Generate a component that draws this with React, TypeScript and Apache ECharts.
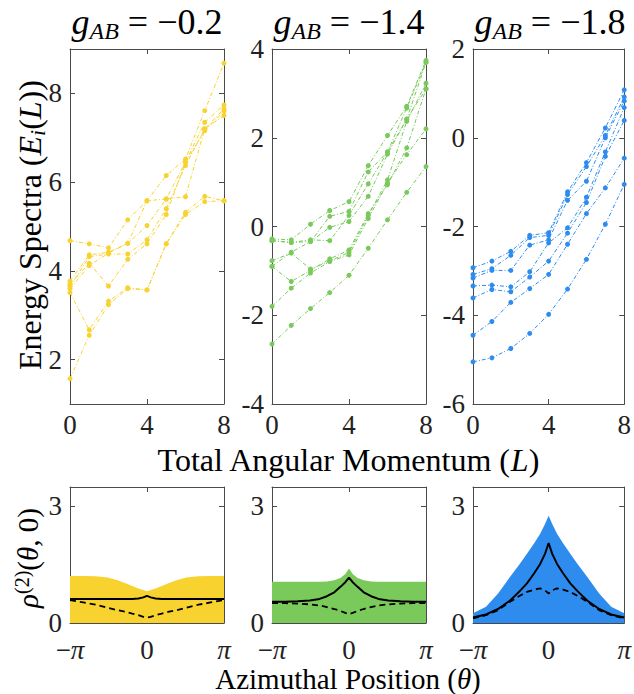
import React, { useEffect, useRef } from "react";
import * as echarts from "echarts";

// ---------- data ----------
const L_VALUES = [0, 1, 2, 3, 4, 5, 6, 7, 8];

const YELLOW_LINES = [
  [4.68, 4.61, 4.52, 5.15, 5.58, 6.15, 6.52, 7.61, 8.68],
  [3.77, 4.36, 4.42, 4.62, 5.58, 5.62, 6.45, 7.35, 7.74],
  [3.65, 4.32, 4.38, 4.38, 4.7, 5.4, 6.37, 7.2, 7.65],
  [3.7, 4.17, 3.66, 4.26, 4.61, 5.27, 6.45, 7.16, 7.6],
  [3.6, 4.12, 4.4, 4.62, 5.02, 5.62, 5.67, 7.2, 7.5],
  [3.51, 2.67, 3.32, 3.62, 3.57, 4.61, 5.32, 5.68, 5.58],
  [1.57, 2.55, 3.24, 3.6, 3.57, 4.61, 5.27, 5.56, 5.58],
];

const GREEN_LINES = [
  [-2.65, -2.23, -1.85, -1.49, -1.1, -0.49, 0.15, 0.77, 1.35],
  [-1.8, -1.39, -1.05, -0.79, -0.64, 0.18, 0.98, 1.62, 2.2],
  [-0.9, -1.24, -0.99, -0.73, -0.53, 0.29, 0.94, 1.77, 3.1],
  [-0.77, -0.6, -0.96, -0.78, -0.58, 0.25, 1.05, 2.37, 3.23],
  [-0.9, -0.58, -0.34, -0.02, 0.11, 0.68, 1.63, 2.42, 3.1],
  [-0.32, -0.36, -0.3, -0.32, 0.25, 0.96, 1.68, 2.67, 3.7],
  [-0.28, -0.3, 0.05, 0.36, 0.56, 1.37, 2.05, 2.71, 3.74],
  [-0.32, -0.36, -0.34, 0.23, 0.34, 1.23, 1.68, 2.42, 3.7],
];

const BLUE_LINES = [
  [-5.05, -4.96, -4.75, -4.41, -3.98, -3.41, -2.74, -1.95, -1.05],
  [-4.45, -4.14, -3.71, -3.4, -3.08, -2.4, -1.71, -1.13, -0.46],
  [-3.61, -3.42, -3.47, -3.14, -2.78, -2.15, -1.46, -0.42, 0.39],
  [-3.34, -3.32, -3.36, -3.02, -2.37, -2.03, -1.34, -0.32, 0.68],
  [-3.16, -2.99, -2.99, -2.42, -2.3, -1.41, -0.98, 0.0, 0.83],
  [-3.08, -2.95, -2.65, -2.25, -2.2, -1.28, -0.65, 0.05, 0.92],
  [-2.93, -2.78, -2.56, -2.2, -2.14, -1.22, -0.56, 0.22, 1.08],
];

const THETA = [
  -3.1416, -2.6, -2.1, -1.6, -1.2, -0.9, -0.6, -0.35, -0.15, 0,
  0.15, 0.35, 0.6, 0.9, 1.2, 1.6, 2.1, 2.6, 3.1416,
];

const YELLOW_BAND = [1.21, 1.21, 1.2, 1.17, 1.1, 1.03, 0.95, 0.89, 0.85, 0.82, 0.85, 0.89, 0.95, 1.03, 1.1, 1.17, 1.2, 1.21, 1.21];
const YELLOW_SOLID = [0.62, 0.62, 0.62, 0.62, 0.62, 0.62, 0.62, 0.63, 0.66, 0.7, 0.66, 0.63, 0.62, 0.62, 0.62, 0.62, 0.62, 0.62, 0.62];
const YELLOW_DASHED = [0.59, 0.53, 0.47, 0.39, 0.33, 0.29, 0.24, 0.2, 0.16, 0.14, 0.16, 0.2, 0.24, 0.29, 0.33, 0.39, 0.47, 0.53, 0.59];

const GREEN_BAND = [1.06, 1.06, 1.06, 1.06, 1.06, 1.07, 1.1, 1.16, 1.26, 1.4, 1.26, 1.16, 1.1, 1.07, 1.06, 1.06, 1.06, 1.06, 1.06];
const GREEN_SOLID = [0.55, 0.55, 0.56, 0.58, 0.62, 0.69, 0.79, 0.93, 1.05, 1.17, 1.05, 0.93, 0.79, 0.69, 0.62, 0.58, 0.56, 0.55, 0.55];
const GREEN_DASHED = [0.51, 0.51, 0.5, 0.48, 0.45, 0.41, 0.36, 0.31, 0.26, 0.23, 0.26, 0.31, 0.36, 0.41, 0.45, 0.48, 0.5, 0.51, 0.51];

const BLUE_BAND = [0.25, 0.42, 0.76, 1.19, 1.52, 1.78, 2.05, 2.3, 2.55, 2.76, 2.55, 2.3, 2.05, 1.78, 1.52, 1.19, 0.76, 0.42, 0.25];
const BLUE_SOLID = [0.14, 0.22, 0.36, 0.58, 0.82, 1.02, 1.28, 1.52, 1.78, 2.06, 1.78, 1.52, 1.28, 1.02, 0.82, 0.58, 0.36, 0.22, 0.14];
const BLUE_DASHED = [0.12, 0.2, 0.33, 0.55, 0.7, 0.8, 0.86, 0.89, 0.84, 0.76, 0.84, 0.89, 0.86, 0.8, 0.7, 0.55, 0.33, 0.2, 0.12];

const TITLES = ["−0.2", "−1.4", "−1.8"];
const TOP_Y_RANGES = [
  [1, 9],
  [-4, 4],
  [-6, 2],
];
const TOP_Y_TICKS = [
  [2, 4, 6, 8],
  [-4, -2, 0, 2, 4],
  [-6, -4, -2, 0, 2],
];
const L_TICKS = [0, 4, 8];
const THETA_TICKS = [-Math.PI, 0, Math.PI];
const RHO_TICKS = [0, 3];

const COLORS = ["#F8D22F", "#79C95B", "#2E8CEF"];

// ---------- layout ----------
const LEFTS = [70, 272, 473];
const PW = 154;
const TOP_T = 49;
const TOP_H = 355;
const BOT_T = 487;
const BOT_H = 136;

const FONT = "'Times New Roman', 'Liberation Serif', Times, serif";
const AXIS_COLOR = "#4a4a4a";
const TEXT_COLOR = "#222";
const TICK_FS = 27;

export default function App() {
  const ref = useRef<HTMLDivElement>(null);

  useEffect(() => {
    if (!ref.current) return;
    const chart = echarts.init(ref.current, null, { renderer: "svg" });

    const grids: any[] = [];
    const xAxes: any[] = [];
    const yAxes: any[] = [];
    const series: any[] = [];

    const labelStyle = {
      fontFamily: FONT,
      fontSize: TICK_FS,
      color: TEXT_COLOR,
    };

    const addAxes = (
      gi: number,
      xmin: number,
      xmax: number,
      xticks: number[],
      ymin: number,
      ymax: number,
      yticks: number[],
      xFormatter: (v: number) => string,
      yFormatter: (v: number) => string,
      xMargin: number
    ) => {
      const common = {
        gridIndex: gi,
        type: "value",
        splitLine: { show: false },
        axisLine: { show: true, onZero: false, lineStyle: { color: AXIS_COLOR, width: 1 } },
      };
      xAxes.push({
        ...common,
        position: "bottom",
        min: xmin,
        max: xmax,
        axisTick: { show: true, inside: true, length: 5, customValues: xticks, lineStyle: { color: AXIS_COLOR } },
        axisLabel: {
          show: true,
          customValues: xticks,
          formatter: xFormatter,
          margin: xMargin,
          ...labelStyle,
          rich: {
            p: { fontFamily: FONT, fontSize: TICK_FS, fontStyle: "italic", color: TEXT_COLOR },
            m: { fontFamily: FONT, fontSize: TICK_FS, color: TEXT_COLOR },
          },
        },
      });
      xAxes.push({
        ...common,
        position: "top",
        min: xmin,
        max: xmax,
        axisTick: { show: true, inside: true, length: 5, customValues: xticks, lineStyle: { color: AXIS_COLOR } },
        axisLabel: { show: false },
      });
      yAxes.push({
        ...common,
        position: "left",
        min: ymin,
        max: ymax,
        axisTick: { show: true, inside: true, length: 5, customValues: yticks, lineStyle: { color: AXIS_COLOR } },
        axisLabel: {
          show: true,
          customValues: yticks,
          formatter: yFormatter,
          margin: 8,
          ...labelStyle,
        },
      });
      yAxes.push({
        ...common,
        position: "right",
        min: ymin,
        max: ymax,
        axisTick: { show: true, inside: true, length: 5, customValues: yticks, lineStyle: { color: AXIS_COLOR } },
        axisLabel: { show: false },
      });
    };

    const topLines = [YELLOW_LINES, GREEN_LINES, BLUE_LINES];
    const bands = [YELLOW_BAND, GREEN_BAND, BLUE_BAND];
    const solids = [YELLOW_SOLID, GREEN_SOLID, BLUE_SOLID];
    const dashes = [YELLOW_DASHED, GREEN_DASHED, BLUE_DASHED];

    for (let p = 0; p < 3; p++) {
      const gi = grids.length;
      grids.push({ left: LEFTS[p], top: TOP_T, width: PW, height: TOP_H, containLabel: false });
      const xi = xAxes.length;
      const yi = yAxes.length;
      addAxes(
        gi,
        0,
        8,
        L_TICKS,
        TOP_Y_RANGES[p][0],
        TOP_Y_RANGES[p][1],
        TOP_Y_TICKS[p],
        (v: number) => String(v),
        (v: number) => (v < 0 ? "-" + Math.abs(v) : String(v)),
        7
      );
      topLines[p].forEach((arr) => {
        series.push({
          type: "line",
          xAxisIndex: xi,
          yAxisIndex: yi,
          data: L_VALUES.map((l, i) => [l, arr[i]]),
          symbol: "circle",
          symbolSize: 5,
          showSymbol: true,
          itemStyle: { color: COLORS[p] },
          lineStyle: { color: COLORS[p], width: 1, type: [4, 2, 1, 2] },
          silent: true,
        });
      });

      const gb = grids.length;
      grids.push({ left: LEFTS[p], top: BOT_T, width: PW, height: BOT_H, containLabel: false });
      const xb = xAxes.length;
      const yb = yAxes.length;
      addAxes(
        gb,
        -Math.PI,
        Math.PI,
        THETA_TICKS,
        0,
        3.5,
        RHO_TICKS,
        (v: number) => (v < -1 ? "{m|−}{p|π}" : v > 1 ? "{p|π}" : "0"),
        (v: number) => String(v),
        13
      );
      series.push({
        type: "line",
        xAxisIndex: xb,
        yAxisIndex: yb,
        data: THETA.map((t, i) => [t, bands[p][i]]),
        symbol: "none",
        lineStyle: { width: 0 },
        areaStyle: { color: COLORS[p], opacity: 1 },
        z: 1,
        silent: true,
      });
      series.push({
        type: "line",
        xAxisIndex: xb,
        yAxisIndex: yb,
        data: THETA.map((t, i) => [t, dashes[p][i]]),
        symbol: "none",
        lineStyle: { color: "#000", width: 1.8, type: [6, 4] },
        z: 3,
        silent: true,
      });
      series.push({
        type: "line",
        xAxisIndex: xb,
        yAxisIndex: yb,
        data: THETA.map((t, i) => [t, solids[p][i]]),
        symbol: "none",
        lineStyle: { color: "#000", width: 2 },
        z: 4,
        silent: true,
      });
    }

    const titleRich = {
      n: { fontFamily: FONT, fontSize: 36, color: TEXT_COLOR },
      i: { fontFamily: FONT, fontSize: 36, fontStyle: "italic", color: TEXT_COLOR },
      s: {
        fontFamily: FONT,
        fontSize: 24,
        fontStyle: "italic",
        color: TEXT_COLOR,
        padding: [17, 0, 0, 0],
        verticalAlign: "top",
      },
    };

    const graphics: any[] = [];
    for (let p = 0; p < 3; p++) {
      graphics.push({
        type: "text",
        x: LEFTS[p] + PW / 2,
        y: 22,
        style: {
          text: "{i|g}{s|AB}{n| = " + TITLES[p] + "}",
          rich: titleRich,
          align: "center",
          verticalAlign: "middle",
        },
      });
    }
    const mkRich = (fs: number) => ({
      n: { fontFamily: FONT, fontSize: fs, color: TEXT_COLOR },
      i: { fontFamily: FONT, fontSize: fs, fontStyle: "italic", color: TEXT_COLOR },
      s: {
        fontFamily: FONT,
        fontSize: Math.round(fs * 0.68),
        fontStyle: "italic",
        color: TEXT_COLOR,
        padding: [Math.round(fs * 0.48), 0, 0, 0],
        verticalAlign: "top",
      },
      u: {
        fontFamily: FONT,
        fontSize: Math.round(fs * 0.68),
        color: TEXT_COLOR,
        padding: [0, 0, Math.round(fs * 0.45), 0],
        verticalAlign: "bottom",
      },
    });
    graphics.push({
      type: "text",
      x: 30,
      y: 225,
      rotation: Math.PI / 2,
      style: {
        text: "{n|Energy Spectra (}{i|E}{s|i}{n|(}{i|L}{n|))}",
        rich: mkRich(32),
        align: "center",
        verticalAlign: "middle",
      },
    });
    graphics.push({
      type: "text",
      x: 348,
      y: 460,
      style: {
        text: "{n|Total Angular Momentum (}{i|L}{n|)}",
        rich: mkRich(32),
        align: "center",
        verticalAlign: "middle",
      },
    });
    graphics.push({
      type: "text",
      x: 348,
      y: 679,
      style: {
        text: "{n|Azimuthal Position (}{i|θ}{n|)}",
        rich: mkRich(29),
        align: "center",
        verticalAlign: "middle",
      },
    });
    graphics.push({
      type: "text",
      x: 28,
      y: 558,
      rotation: Math.PI / 2,
      style: {
        text: "{i|ρ}{u|(2)}{n|(}{i|θ}{n|, 0)}",
        rich: mkRich(29),
        align: "center",
        verticalAlign: "middle",
      },
    });

    chart.setOption({
      animation: false,
      backgroundColor: "#fff",
      grid: grids,
      xAxis: xAxes,
      yAxis: yAxes,
      series,
      graphic: graphics,
    });

    return () => chart.dispose();
  }, []);

  return (
    <div
      ref={ref}
      style={{ position: "fixed", left: 0, top: 0, width: 634, height: 694 }}
    />
  );
}
